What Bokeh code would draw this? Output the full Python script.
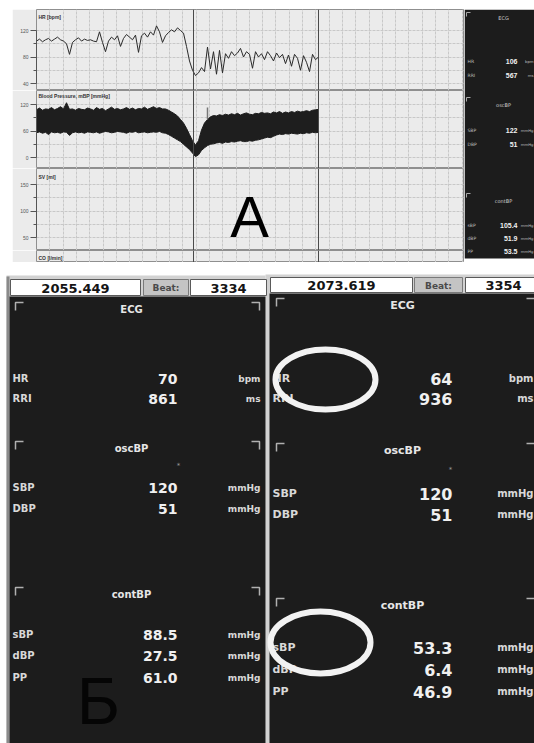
from bokeh.plotting import figure
from bokeh.layouts import column, row
from bokeh.models import (Range1d, FixedTicker, SingleIntervalTicker, Span, Label,
                          Spacer, Grid)
from bokeh.embed import file_html
from bokeh.resources import INLINE
from bokeh.core.properties import value

# ---------------- data ----------------
hr_t = [0, 3, 6, 9, 12, 15, 18, 21, 24, 27,
        30, 33, 36, 39, 42, 45, 48, 51, 54, 57,
        60, 63, 66, 69, 72, 75, 78, 81, 84, 87,
        90, 93, 96, 99, 102, 105, 108, 111, 114, 117,
        120, 123, 126, 129, 132, 135, 138, 141, 144, 147,
        150, 153, 156, 159, 162, 165, 168, 171, 174, 177,
        180, 183, 186, 189, 192, 195, 198, 201, 204, 207,
        210, 213, 216, 219, 222, 225, 228, 231, 234, 237,
        240, 243, 246, 249, 252, 255, 258, 261, 264, 267,
        270, 273, 276, 279, 282]
hr_bpm = [104, 107, 103, 106, 108, 104, 107, 110, 106, 104,
          100, 84, 102, 106, 109, 104, 107, 105, 106, 104,
          103, 118, 102, 88, 104, 110, 106, 112, 96, 108,
          114, 110, 106, 113, 87, 112, 116, 110, 118, 113,
          127, 118, 102, 112, 117, 121, 118, 124, 120, 116,
          96, 74, 60, 52, 56, 64, 58, 95, 62, 88,
          54, 90, 56, 85, 78, 88, 82, 86, 93, 80,
          88, 84, 63, 88, 80, 85, 76, 88, 82, 74,
          86, 79, 84, 70, 83, 66, 84, 78, 60, 82,
          72, 58, 84, 76, 80]
bp_sys = [108, 112, 107, 110, 109, 113, 108, 111, 115, 110,
          124, 109, 110, 107, 111, 109, 108, 112, 110, 107,
          113, 109, 111, 106, 110, 114, 109, 111, 108, 110,
          113, 109, 112, 108, 111, 110, 114, 109, 112, 115,
          111, 113, 110, 110, 107, 103, 99, 94, 86, 78,
          66, 52, 38, 28, 38, 62, 78, 86, 92, 95,
          94, 97, 95, 98, 96, 99, 97, 100, 96, 99,
          101, 98, 97, 100, 99, 102, 100, 101, 99, 103,
          101, 104, 100, 103, 101, 104, 102, 105, 103, 104,
          106, 104, 107, 108, 109]
bp_dia = [56, 58, 55, 57, 52, 58, 56, 57, 55, 58,
          57, 50, 56, 58, 56, 57, 55, 58, 57, 56,
          58, 55, 57, 59, 58, 56, 57, 59, 58, 57,
          55, 58, 57, 59, 56, 57, 58, 56, 57, 58,
          57, 59, 56, 55, 52, 48, 44, 40, 36, 30,
          24, 18, 10, 2, 6, 16, 22, 27, 30, 31,
          33, 34, 32, 35, 34, 36, 35, 37, 38, 36,
          36, 38, 37, 39, 40, 42, 44, 46, 45, 48,
          51, 53, 52, 54, 53, 55, 54, 53, 55, 54,
          56, 55, 57, 56, 57]
artifact_t = [171]
artifact_hi = [113]
artifact_lo = [86]
cursor_t = [157, 282]

track_names = ["HR   [bpm]", "Blood Pressure, mBP   [mmHg]", "SV   [ml]", "CO   [l/min]"]
hr_ticks, hr_minor = [40, 80, 120], [60, 100]
bp_ticks, bp_minor = [0, 60, 120], [30, 90]
sv_ticks, sv_minor = [50, 100, 150], [75, 125]

row_labels = ["HR", "RRI", "SBP", "DBP", "sBP", "dBP", "PP"]
row_units = ["bpm", "ms", "mmHg", "mmHg", "mmHg", "mmHg", "mmHg"]
section_titles = ["ECG", "oscBP", "contBP"]
a_values = ["106", "567", "122", "51", "105.4", "51.9", "53.5"]
b1_time, b1_beat = "2055.449", "3334"
b1_values = ["70", "861", "120", "51", "88.5", "27.5", "61.0"]
b2_time, b2_beat = "2073.619", "3354"
b2_values = ["64", "936", "120", "51", "53.3", "6.4", "46.9"]
beat_label = "Beat:"

# ---------------- styles ----------------
PLOT_BG = "#ebebeb"
GRID_C = "#c8c8c8"
AX_C = "#555555"
DARK = "#1c1c1c"
FONT = value("DejaVu Sans")
SANS = value("Liberation Sans")

xr = Range1d(0, 428)


def make_track(height, calib, top, bottom, ticks, minor, name, name_py):
    if calib:
        (va, pa), (vb, pb) = calib
        k = (va - vb) / (pb - pa)
    else:
        va, pa, k = 0.0, bottom, 1.0

    def to_val(py):
        return va - (py - pa) * k

    p = figure(width=452, height=height, x_range=xr,
               y_range=Range1d(to_val(bottom), to_val(top)),
               output_backend="svg", toolbar_location=None,
               x_axis_location=None, y_axis_location="left" if ticks else None,
               min_border_left=24, min_border_right=0, min_border_top=0, min_border_bottom=0)
    p.background_fill_color = PLOT_BG
    p.border_fill_color = PLOT_BG
    p.outline_line_color = "#8f8f8f"
    for g in p.grid:
        g.visible = False
    p.add_layout(Grid(dimension=0, ticker=SingleIntervalTicker(interval=13.3, num_minor_ticks=0),
                      grid_line_color=GRID_C, grid_line_dash="3 1"))
    p.add_layout(Grid(dimension=1, ticker=SingleIntervalTicker(interval=13.25 * k, num_minor_ticks=0),
                      grid_line_color=GRID_C, grid_line_dash="3 1"))
    if ticks:
        ax = p.yaxis[0]
        ax.ticker = FixedTicker(ticks=ticks, minor_ticks=minor)
        ax.bounds = (min(ticks), max(ticks))
        ax.axis_line_color = AX_C
        ax.major_tick_line_color = AX_C
        ax.minor_tick_line_color = AX_C
        ax.major_tick_out = 6
        ax.major_tick_in = 0
        ax.minor_tick_out = 3
        ax.minor_tick_in = 0
        ax.major_label_text_font_size = "5px"
        ax.major_label_text_color = "#555555"
        ax.major_label_standoff = 2
    p.add_layout(Label(x=2, y=to_val(name_py), text=name, text_font_size="5px",
                       text_font_style="bold", text_color="#333333", text_baseline="middle",
                       text_font="Liberation Sans"))
    for c in cursor_t:
        p.add_layout(Span(location=c, dimension="height", line_color="#4a4a4a", line_width=1))
    return p, to_val


hr, hr_val = make_track(81, ((120, 30), (40, 83)), 9, 90, hr_ticks, hr_minor, track_names[0], 16)
bp, bp_val = make_track(78, ((120, 104), (0, 157)), 90, 168, bp_ticks, bp_minor, track_names[1], 95)
sv, sv_val = make_track(82, ((150, 184), (50, 237)), 168, 250, sv_ticks, sv_minor, track_names[2], 176)
co, co_val = make_track(12, None, 250, 262, None, None, track_names[3], 257)

hr.line(hr_t, hr_bpm, line_color="#2a2a2a", line_width=1)

bp.varea(x=hr_t, y1=bp_dia, y2=bp_sys, fill_color="#1e1e1e")
bp.line(hr_t, bp_sys, line_color="#1e1e1e", line_width=1)
bp.line(hr_t, bp_dia, line_color="#1e1e1e", line_width=1)
bp.segment(x0=artifact_t, y0=artifact_lo, x1=artifact_t, y1=artifact_hi,
           line_color="#777777", line_width=1.5)

sv.add_layout(Label(x=213, y=sv_val(216), text="A", text_font_size="58px",
                    text_color="#000000", text_align="center", text_baseline="middle",
                    text_font="Liberation Sans"))

# ---------------- right info panel of picture A ----------------
sp = figure(width=70, height=253, x_range=Range1d(464, 534), y_range=Range1d(262, 9),
            output_backend="svg", toolbar_location=None, x_axis_location=None,
            y_axis_location=None, min_border=0)
sp.grid.visible = False
sp.outline_line_color = None
sp.background_fill_color = "white"
sp.border_fill_color = "white"
sp.quad(left=[464], right=[534], top=[9], bottom=[258], fill_color=DARK, line_color=None)
side_row_y = [61, 75, 130, 144, 225, 238, 251]
side_sec_y = [17, 104, 200]
sp.multi_line(xs=[[466, 466, 470]] * 3, ys=[[s + 4, s, s] for s in [12, 97, 193]],
              line_color="#aaaaaa", line_width=1)
sp.text(x=[503] * 3, y=side_sec_y, text=section_titles, text_align="center",
        text_baseline="middle", text_font_size="5px", text_color="#d0d0d0", text_font=FONT)
sp.text(x=[467] * 7, y=side_row_y, text=row_labels, text_baseline="middle",
        text_font_size="4.5px", text_color="#bdbdbd", text_font=FONT)
sp.text(x=[517] * 7, y=side_row_y, text=a_values, text_align="right", text_baseline="middle",
        text_font_size="7px", text_font_style="bold", text_color="#f0f0f0", text_font=SANS)
sp.text(x=[533] * 7, y=side_row_y, text=row_units, text_align="right", text_baseline="middle",
        text_font_size="3.8px", text_color="#bdbdbd", text_font=FONT)

# ---------------- picture B (two readout panels) ----------------
b = figure(width=534, height=470, x_range=Range1d(0, 534), y_range=Range1d(743, 273),
           output_backend="svg", toolbar_location=None, x_axis_location=None,
           y_axis_location=None, min_border=0)
b.grid.visible = False
b.outline_line_color = None
b.background_fill_color = "white"
b.border_fill_color = "white"

b.quad(left=[6, 265], right=[265, 534], top=[275, 274], bottom=[743, 743],
       fill_color="#d2d2d2", line_color=None)
b.quad(left=[6], right=[9], top=[276], bottom=[743], fill_color="#8a8a8a", line_color=None)
b.quad(left=[9, 269], right=[265, 534], top=[296, 293], bottom=[743, 743],
       fill_color=DARK, line_color=None)
b.quad(left=[10, 190, 270, 465], right=[140, 266, 412, 540], top=[279, 279, 277, 277],
       bottom=[295, 295, 292, 292], fill_color="white", line_color="#5a5a5a", line_width=1)
b.quad(left=[143, 414], right=[188, 462], top=[279, 277], bottom=[295, 292],
       fill_color="#c4c4c4", line_color="#7a7a7a", line_width=1)

b.text(x=[75, 341], y=[287.5, 285], text=[b1_time, b2_time], text_align="center",
       text_baseline="middle", text_font_size="13px", text_font_style="bold",
       text_color="#151515", text_font=FONT)
b.text(x=[228, 503], y=[287.5, 285], text=[b1_beat, b2_beat], text_align="center",
       text_baseline="middle", text_font_size="13px", text_font_style="bold",
       text_color="#151515", text_font=FONT)
b.text(x=[165.5, 438], y=[287.5, 285], text=[beat_label, beat_label], text_align="center",
       text_baseline="middle", text_font_size="9px", text_font_style="bold",
       text_color="#4a4a4a", text_font=FONT)

# left panel
L_row_y = [378, 398, 487, 508, 634, 655, 677]
L_sec_y = [309, 448, 594]
L_br_y = [302, 441, 587]
b.multi_line(xs=[[15, 15, 23]] * 3 + [[251, 259, 259]] * 3,
             ys=[[s + 8, s, s] for s in L_br_y] + [[s, s, s + 8] for s in L_br_y],
             line_color="#b0b0b0", line_width=1.5)
b.text(x=[131] * 3, y=L_sec_y, text=section_titles, text_align="center", text_baseline="middle",
       text_font_size="10px", text_font_style="bold", text_color="#e6e6e6", text_font=FONT)
b.text(x=[12] * 7, y=L_row_y, text=row_labels, text_baseline="middle",
       text_font_size="10px", text_font_style="bold", text_color="#d8d8d8", text_font=FONT)
b.text(x=[177] * 7, y=L_row_y, text=b1_values, text_align="right", text_baseline="middle",
       text_font_size="14px", text_font_style="bold", text_color="#f0f0f0", text_font=FONT)
b.text(x=[260] * 7, y=L_row_y, text=row_units, text_align="right", text_baseline="middle",
       text_font_size="9px", text_font_style="bold", text_color="#d8d8d8", text_font=FONT)
b.text(x=[178], y=[465], text=["*"], text_align="center", text_baseline="middle",
       text_font_size="7px", text_color="#9a9a9a", text_font=FONT)
b.text(x=[98], y=[700], text=["Б"], text_align="center", text_baseline="middle",
       text_font_size="66px", text_color="#050505", text_font=SANS)

# right panel
R_row_y = [378, 398, 493, 514, 647, 669, 691]
R_sec_y = [305, 450, 605]
R_br_y = [298, 443, 598]
b.multi_line(xs=[[276, 276, 284]] * 3 + [[526, 536, 536]] * 3,
             ys=[[s + 8, s, s] for s in R_br_y] + [[s, s, s + 8] for s in R_br_y],
             line_color="#b0b0b0", line_width=1.5)
b.text(x=[402] * 3, y=R_sec_y, text=section_titles, text_align="center", text_baseline="middle",
       text_font_size="11px", text_font_style="bold", text_color="#e6e6e6", text_font=FONT)
b.text(x=[272] * 7, y=R_row_y, text=row_labels, text_baseline="middle",
       text_font_size="11px", text_font_style="bold", text_color="#d8d8d8", text_font=FONT)
b.text(x=[452] * 7, y=R_row_y, text=b2_values, text_align="right", text_baseline="middle",
       text_font_size="16px", text_font_style="bold", text_color="#f0f0f0", text_font=FONT)
b.text(x=[533] * 7, y=R_row_y, text=row_units, text_align="right", text_baseline="middle",
       text_font_size="10px", text_font_style="bold", text_color="#d8d8d8", text_font=FONT)
b.text(x=[450], y=[469], text=["*"], text_align="center", text_baseline="middle",
       text_font_size="7px", text_color="#9a9a9a", text_font=FONT)

b.ellipse(x=[325, 320], y=[379, 642], width=[100, 100], height=[60, 62],
          fill_color=None, line_color="#f2f2f2", line_width=6)

# ---------------- layout ----------------
top_block = row(Spacer(width=12, height=253), column(hr, bp, sv, co), sp)
page = column(Spacer(width=534, height=9), top_block, Spacer(width=534, height=11), b)

open("out.html", "w").write(file_html(page, INLINE))
